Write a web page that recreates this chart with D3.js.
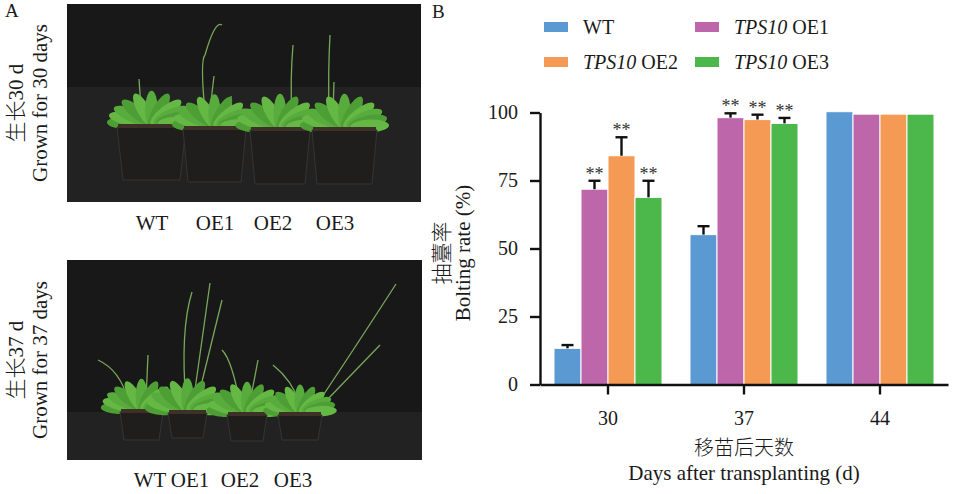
<!DOCTYPE html>
<html>
<head>
<meta charset="utf-8">
<script src="https://cdn.jsdelivr.net/npm/d3@7"></script>
<style>
html,body{margin:0;padding:0;background:#fff;}
svg{display:block;}
text{font-family:"Liberation Serif","Times New Roman",serif;fill:#1a1a1a;}
.cjk{font-family:"Noto Sans CJK SC","Noto Sans",sans-serif;font-weight:300;}
</style>
</head>
<body>
<svg id="chart" width="954" height="494"></svg>
<script>
// ---- data ----
const categories = ["30", "37", "44"];
const series = ["WT", "TPS10 OE1", "TPS10 OE2", "TPS10 OE3"];
const wtValues  = [13.3, 55.1, 100.3];
const oe1Values = [71.8, 98.1, 99.4];
const oe2Values = [84.1, 97.4, 99.4];
const oe3Values = [68.8, 96.0, 99.4];
const wtErr  = [1.2, 3.1, 0];
const oe1Err = [3.1, 1.6, 0];
const oe2Err = [6.8, 1.8, 0];
const oe3Err = [6.1, 2.0, 0];
const wtSig  = ["", "", ""];
const oe1Sig = ["**", "**", ""];
const oe2Sig = ["**", "**", ""];
const oe3Sig = ["**", "**", ""];
const yTicks = [0, 25, 50, 75, 100];
const photoLabels = ["WT", "OE1", "OE2", "OE3"];

const colors = ["#5b99d2", "#bd67aa", "#f59a55", "#4cb84b"];
const valuesBySeries = [wtValues, oe1Values, oe2Values, oe3Values];
const errBySeries = [wtErr, oe1Err, oe2Err, oe3Err];
const sigBySeries = [wtSig, oe1Sig, oe2Sig, oe3Sig];

const svg = d3.select("#chart");

// ---------------- Panel B: bar chart ----------------
const y = d3.scaleLinear().domain([0, 100]).range([384.5, 112.5]);
const x0 = d3.scaleBand().domain(categories).range([540, 948]).padding(0);
const x1 = d3.scaleBand().domain(series).range([14, x0.bandwidth() - 14]).padding(0);

const rows = [];
categories.forEach((c, ci) => {
  series.forEach((s, si) => {
    rows.push({cat: c, ser: s, si: si, v: valuesBySeries[si][ci], e: errBySeries[si][ci], sig: sigBySeries[si][ci]});
  });
});

const gB = svg.append("g");
const groups = gB.selectAll("g.bar").data(rows).join("g")
  .attr("transform", d => `translate(${x0(d.cat) + x1(d.ser)},0)`);

groups.append("rect")
  .attr("x", 0)
  .attr("width", x1.bandwidth())
  .attr("y", d => y(d.v))
  .attr("height", d => y(0) - y(d.v))
  .attr("fill", d => colors[d.si])
  .attr("stroke", "#fff")
  .attr("stroke-width", 1);

const eb = groups.filter(d => d.e > 0);
eb.append("line")
  .attr("x1", x1.bandwidth() / 2).attr("x2", x1.bandwidth() / 2)
  .attr("y1", d => y(d.v)).attr("y2", d => y(d.v + d.e))
  .attr("stroke", "#111").attr("stroke-width", 2.4);
eb.append("line")
  .attr("x1", x1.bandwidth() / 2 - 6).attr("x2", x1.bandwidth() / 2 + 6)
  .attr("y1", d => y(d.v + d.e)).attr("y2", d => y(d.v + d.e))
  .attr("stroke", "#111").attr("stroke-width", 2.4);

groups.filter(d => d.sig).append("text")
  .attr("x", x1.bandwidth() / 2)
  .attr("y", d => y(d.v + d.e) - 1)
  .attr("text-anchor", "middle")
  .attr("font-size", 18)
  .style("fill", "#333")
  .text(d => d.sig);

// axes
const yAxis = d3.axisLeft(y).tickValues(yTicks).tickSize(10).tickSizeOuter(0).tickPadding(12);
const gy = gB.append("g").attr("transform", "translate(540,0)").call(yAxis);
const xAxis = d3.axisBottom(x0).tickSize(10).tickSizeOuter(0).tickPadding(16);
const gx = gB.append("g").attr("transform", `translate(0,${y(0)})`).call(xAxis);
[gy, gx].forEach(g => {
  g.select(".domain").attr("stroke", "#111").attr("stroke-width", 2.4);
  g.selectAll(".tick line").attr("stroke", "#111").attr("stroke-width", 2.4);
  g.selectAll(".tick text").attr("font-size", 20)
    .attr("font-family", "Liberation Serif, serif").attr("fill", "#1a1a1a");
});

// axis titles
gB.append("text").attr("class", "cjk")
  .attr("transform", "translate(449,253) rotate(-90)")
  .attr("text-anchor", "middle").attr("font-size", 21).text("抽薹率");
gB.append("text")
  .attr("transform", "translate(470,253) rotate(-90)")
  .attr("text-anchor", "middle").attr("font-size", 21).text("Bolting rate (%)");
gB.append("text").attr("class", "cjk")
  .attr("x", x0("37") + x0.bandwidth() / 2).attr("y", 455)
  .attr("text-anchor", "middle").attr("font-size", 20).text("移苗后天数");
gB.append("text")
  .attr("x", x0("37") + x0.bandwidth() / 2).attr("y", 480)
  .attr("text-anchor", "middle").attr("font-size", 21).text("Days after transplanting (d)");

// legend
const legendPos = [[544, 22], [544, 57], [695, 22], [695, 57]];
const legendOrder = [0, 2, 1, 3];
const leg = gB.selectAll("g.leg").data(series).join("g")
  .attr("transform", (d, i) => `translate(${legendPos[legendOrder[i]][0]},${legendPos[legendOrder[i]][1]})`);
leg.append("rect").attr("width", 24).attr("height", 10).attr("fill", (d, i) => colors[i]);
leg.each(function(d) {
  const t = d3.select(this).append("text").attr("x", 39).attr("y", 12).attr("font-size", 20);
  const parts = d.split(" ");
  if (parts.length > 1) {
    t.append("tspan").attr("font-style", "italic").text(parts[0]);
    t.append("tspan").text(" " + parts[1]);
  } else {
    t.text(d);
  }
});

svg.append("text").attr("x", 432).attr("y", 18).attr("font-size", 19).text("B");

// ---------------- Panel A: photo placeholders ----------------
svg.append("text").attr("x", 5).attr("y", 17).attr("font-size", 19).text("A");

function drawPhoto(box, pots, stalks, dayLabel, labelXs, labelY) {
  const g = svg.append("g");
  g.append("rect").attr("x", box.x).attr("y", box.y).attr("width", box.w).attr("height", box.h).attr("fill", "#181818");
  g.append("rect").attr("x", box.x).attr("y", box.floor).attr("width", box.w).attr("height", box.y + box.h - box.floor).attr("fill", "#222222");
  stalks.forEach(s => {
    g.append("path").attr("d", s).attr("fill", "none").attr("stroke", "#78a85a").attr("stroke-width", 1.3);
  });
  pots.forEach(p => {
    const cxBase = (p.x0 + p.x1) / 2;
    const n = 11;
    for (let i = 0; i < n; i++) {
      const a = -176 + i * (172 / (n - 1));
      const rad = a * Math.PI / 180;
      const r = p.leaf;
      const dx = Math.cos(rad), dy = Math.sin(rad) * 0.55;
      const cx = cxBase + dx * r * 0.55;
      const cy = p.top - 3 + dy * r * 0.55;
      const th = Math.atan2(dy, dx) * 180 / Math.PI;
      g.append("ellipse").attr("cx", cx).attr("cy", cy).attr("rx", r * 0.42).attr("ry", r * 0.14)
        .attr("transform", `rotate(${th},${cx},${cy})`)
        .attr("fill", i % 3 === 0 ? "#4e9e36" : (i % 3 === 1 ? "#66b844" : "#58ab3d"));
    }
    g.append("path")
      .attr("d", `M${p.x0},${p.top} L${p.x1},${p.top} L${p.x1 - p.taper},${p.bot} L${p.x0 + p.taper},${p.bot} Z`)
      .attr("fill", "#1f1e1d").attr("stroke", "#363432").attr("stroke-width", 1);
    g.append("rect").attr("x", p.x0 + 1).attr("y", p.top - 3).attr("width", p.x1 - p.x0 - 2).attr("height", 4).attr("fill", "#3d3127");
  });
  const t1 = g.append("text")
    .attr("transform", `translate(23,${box.y + box.h / 2}) rotate(-90)`)
    .attr("text-anchor", "middle").attr("font-size", 21);
  t1.append("tspan").attr("class", "cjk").text("生长");
  t1.append("tspan").text(dayLabel + " d");
  g.append("text")
    .attr("transform", `translate(47,${box.y + box.h / 2}) rotate(-90)`)
    .attr("text-anchor", "middle").attr("font-size", 21).text("Grown for " + dayLabel + " days");
  photoLabels.forEach((l, i) => {
    g.append("text").attr("x", labelXs[i]).attr("y", labelY).attr("text-anchor", "middle").attr("font-size", 21).text(l);
  });
}

drawPhoto({x: 67, y: 4, w: 354, h: 198, floor: 87},
  [{x0: 117, x1: 186, top: 127, bot: 180, taper: 6, leaf: 46},
   {x0: 183, x1: 246, top: 129, bot: 182, taper: 5, leaf: 44},
   {x0: 250, x1: 310, top: 130, bot: 184, taper: 5, leaf: 46},
   {x0: 312, x1: 377, top: 130, bot: 184, taper: 5, leaf: 46}],
  ["M141,108 L139,79", "M205,112 Q200,60 205,55 Q215,20 222,25", "M210,110 L214,76", "M232,114 L231,96",
   "M292,114 Q290,80 293,45", "M329,114 Q328,70 330,35", "M333,112 L334,82"],
  "30", [152, 215, 273, 335], 230);

drawPhoto({x: 67, y: 260, w: 355, h: 200, floor: 412},
  [{x0: 120, x1: 163, top: 412, bot: 440, taper: 4, leaf: 42},
   {x0: 168, x1: 207, top: 413, bot: 438, taper: 4, leaf: 44},
   {x0: 227, x1: 267, top: 415, bot: 441, taper: 4, leaf: 42},
   {x0: 278, x1: 322, top: 415, bot: 440, taper: 4, leaf: 38}],
  ["M128,400 Q120,370 98,360", "M146,400 L148,355", "M186,404 Q180,330 192,292", "M193,404 L210,283", "M197,402 L222,300",
   "M240,404 Q232,360 222,350", "M250,402 L258,360", "M300,404 Q292,380 273,365", "M320,400 Q360,340 396,284", "M325,402 L380,345"],
  "37", [150, 190, 240, 293], 487);
</script>
</body>
</html>
